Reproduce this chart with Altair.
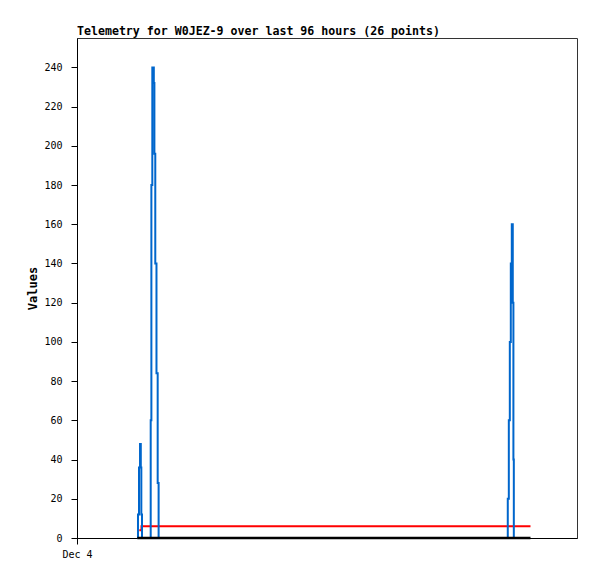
import altair as alt
import pandas as pd

# Hours since Dec 4 00:00 (x domain: 96 hours)
blue_hours = [11.62, 11.71, 11.90, 12.10, 12.25, 12.35, 12.48,
              14.15, 14.28, 14.46, 14.75, 14.86, 15.03, 15.26, 15.49, 15.67,
              82.71, 82.91, 83.10, 83.29, 83.48, 83.67, 83.79, 83.87]
blue_values = [0, 12, 36, 48, 36, 12, 0,
               60, 180, 240, 232, 196, 140, 84, 28, 0,
               20, 60, 100, 140, 160, 120, 40, 0]

red_hours = [11.96, 12.38, 87.07]
red_values = [4, 6, 6]

black_hours = [11.58, 87.07]
black_values = [0, 0]

y_ticks = list(range(0, 241, 20))
x_tick_hours = [0]
x_tick_label = "Dec 4"
title_text = "Telemetry for W0JEZ-9 over last 96 hours (26 points)"

FONT = "DejaVu Sans Mono"

blue_df = pd.DataFrame({"t": blue_hours, "v": blue_values})
red_df = pd.DataFrame({"t": red_hours, "v": red_values})
black_df = pd.DataFrame({"t": black_hours, "v": black_values})

x_enc = alt.X(
    "t:Q",
    scale=alt.Scale(domain=[0, 96], nice=False, zero=False),
    axis=alt.Axis(values=x_tick_hours, labelExpr=f"'{x_tick_label}'", title=None,
                  labelFlush=False, grid=False, tickSize=6, labelPadding=5,
                  labelFont=FONT, labelFontSize=10, labelColor="black",
                  domainColor="black", tickColor="black"),
)
y_enc = alt.Y(
    "v:Q",
    scale=alt.Scale(domain=[0, 255], nice=False),
    axis=alt.Axis(values=y_ticks, title="Values", grid=False, tickSize=6,
                  labelPadding=9, labelFont=FONT, labelFontSize=10,
                  labelColor="black", titleFont=FONT, titleFontSize=12,
                  titleFontWeight="bold", titleColor="black", titlePadding=4,
                  domainColor="black", tickColor="black"),
)


def line(df, color, width=2):
    return alt.Chart(df).mark_line(
        interpolate="step-after", color=color, strokeWidth=width
    ).encode(x=x_enc, y=y_enc)


chart = alt.layer(
    line(red_df, "#ff0000"),
    line(blue_df, "#0066cc"),
    line(black_df, "#000000", 2.5),
).properties(
    width=500,
    height=500,
    padding={"left": 69, "top": 30, "right": 12, "bottom": 33},
    autosize=alt.AutoSizeParams(type="none"),
    title=alt.TitleParams(text=title_text, anchor="start", frame="group", font=FONT,
                          fontSize=11.6, fontWeight="bold", color="black",
                          baseline="alphabetic", offset=3, dy=12),
).configure_view(stroke="#333333", strokeWidth=1)

chart.save("out.html", embed_options={"renderer": "svg", "actions": False})
